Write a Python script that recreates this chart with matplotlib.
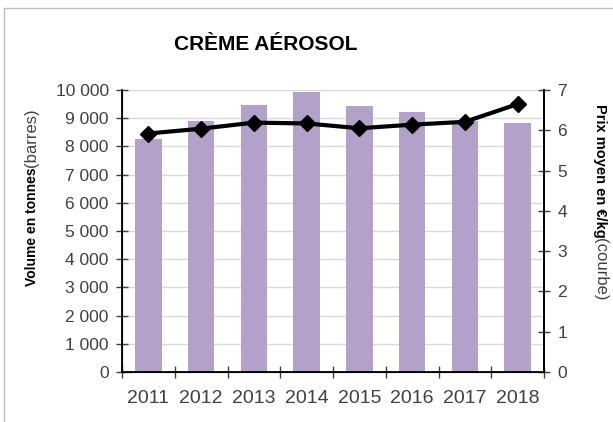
import matplotlib
matplotlib.use("Agg")
import matplotlib.pyplot as plt
from matplotlib.lines import Line2D

plt.rcParams['font.family'] = ['Liberation Sans', 'DejaVu Sans']

# ---------- Data ----------
years = ["2011", "2012", "2013", "2014", "2015", "2016", "2017", "2018"]
volume_t = [8250, 8900, 9460, 9930, 9440, 9230, 8910, 8820]
prix_kg = [5.92, 6.04, 6.19, 6.17, 6.05, 6.14, 6.21, 6.65]

BAR_COLOR = "#B2A2C9"
TEXT_COLOR = "#404040"

W, H = 613, 422
fig = plt.figure(figsize=(W / 100, H / 100), dpi=100)

# chart frame (top and left edges visible in the reference)
fig.add_artist(Line2D([4 / W, 4 / W], [0, 1 - 8 / H], color="#BFBFBF", lw=1))
fig.add_artist(Line2D([4 / W, 1], [1 - 8 / H, 1 - 8 / H], color="#BFBFBF", lw=1))

ax = fig.add_axes([122 / W, 1 - 372 / H, (544 - 122) / W, (372 - 90) / H])
x = range(len(years))
ax.bar(x, volume_t, width=0.5, color=BAR_COLOR, zorder=2)
ax.set_xlim(-0.5, len(years) - 0.5)
ax.set_ylim(0, 10000)
ax.set_yticks(range(0, 10001, 1000))
ax.set_yticklabels([f"{v:,}".replace(",", " ") for v in range(0, 10001, 1000)])
ax.set_xticks([i - 0.5 for i in range(len(years) + 1)], minor=False)
ax.set_xticklabels([])
ax.set_xticks(list(x), minor=True)
ax.set_xticklabels(years, minor=True)
ax.tick_params(axis="x", which="major", direction="inout", length=9, width=1, color="#404040")
ax.tick_params(axis="x", which="minor", length=0, labelsize=14, colors=TEXT_COLOR, pad=13)
ax.tick_params(axis="y", direction="inout", length=9, width=1, labelsize=12.5,
               labelcolor=TEXT_COLOR, color="#404040", pad=5)
ax.grid(axis="y", color="#D9D9D9", lw=1, zorder=0)
ax.set_axisbelow(True)
ax.spines["top"].set_visible(False)
for s in ["left", "bottom", "right"]:
    ax.spines[s].set_color("black")
    ax.spines[s].set_linewidth(1.3)

ax2 = ax.twinx()
ax2.plot(list(x), prix_kg, color="black", lw=3, marker="D", markersize=8, zorder=3)
ax2.set_ylim(0, 7)
ax2.set_yticks(range(0, 8))
ax2.tick_params(axis="y", direction="inout", length=9, width=1, labelsize=12.5,
                labelcolor=TEXT_COLOR, color="#404040", pad=5)
ax2.spines["top"].set_visible(False)
ax2.spines["right"].set_linewidth(1.3)

# title
fig.text(266 / W, 1 - 45 / H, "CRÈME AÉROSOL", ha="center", va="center",
         fontsize=15, fontweight="bold", color="black")

# left axis label: bold + normal parts
fig.text(32 / W, 1 - 167 / H, "Volume en tonnes", rotation=90, ha="center", va="top",
         fontsize=10, fontweight="bold", color="black")
fig.text(32 / W, 1 - 167 / H, "(barres)", rotation=90, ha="center", va="bottom",
         fontsize=12, color=TEXT_COLOR)

# right axis label: bold + normal parts
fig.text(600 / W, 1 - 238 / H, "Prix moyen en €/kg", rotation=270, ha="center", va="bottom",
         fontsize=10.5, fontweight="bold", color="black")
fig.text(600 / W, 1 - 238 / H, "(courbe)", rotation=270, ha="center", va="top",
         fontsize=12, color=TEXT_COLOR)

fig.savefig("out.png", dpi=100)
